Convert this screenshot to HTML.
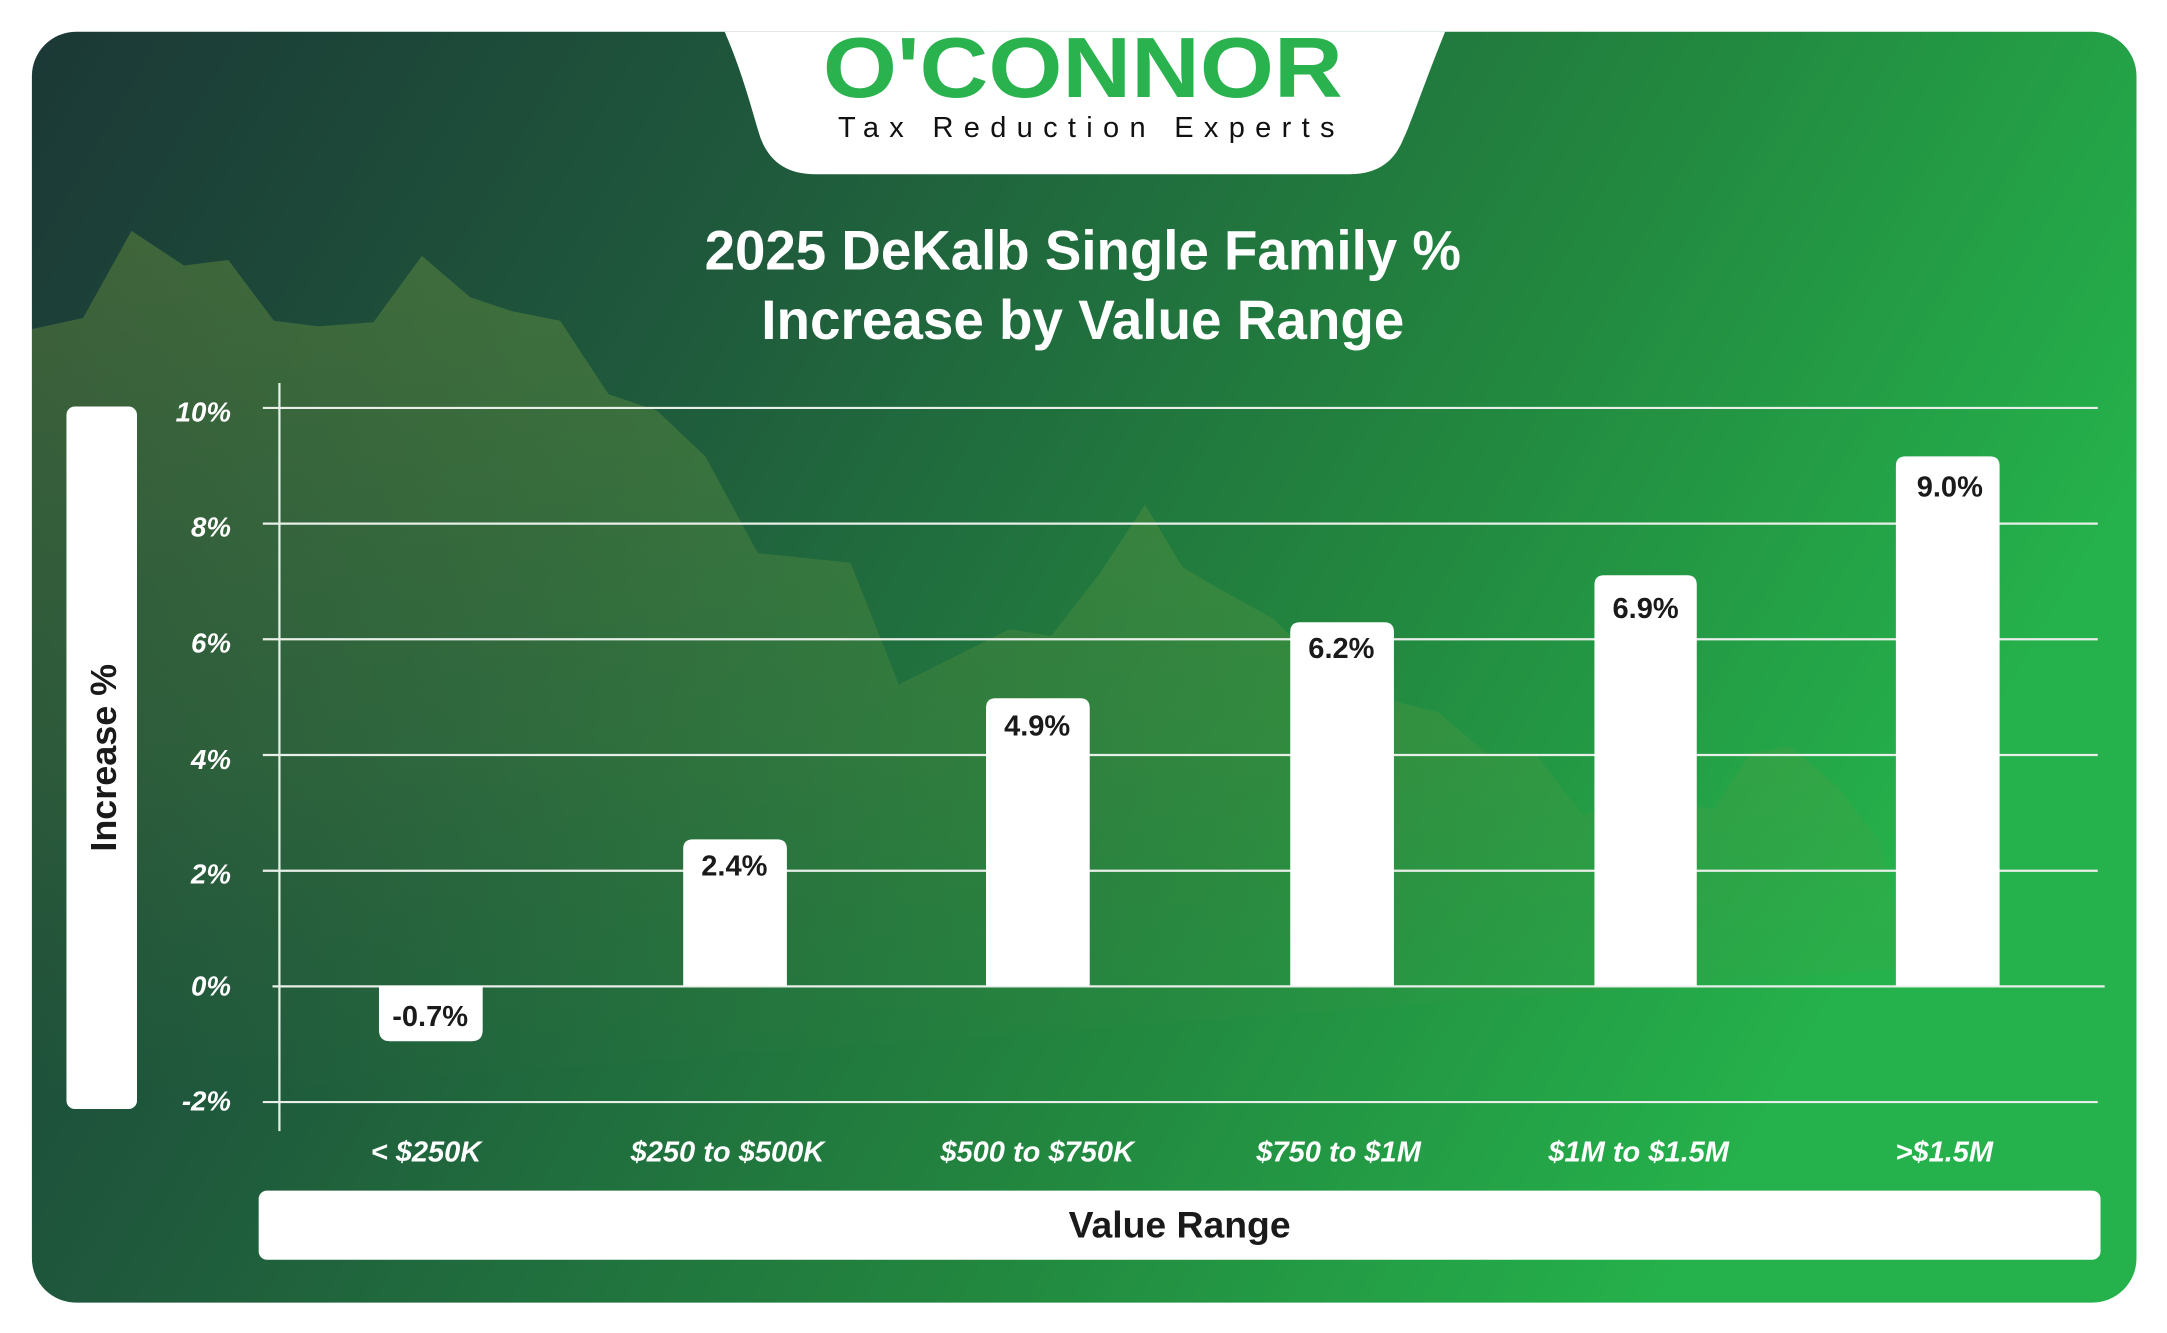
<!DOCTYPE html>
<html><head><meta charset="utf-8"><style>
html,body{margin:0;padding:0;background:#fff;width:2167px;height:1333px;overflow:hidden}
svg{display:block}
text{font-family:"Liberation Sans",sans-serif}
</style></head><body>
<svg width="2167" height="1333" viewBox="0 0 1567 964" xmlns="http://www.w3.org/2000/svg">
<defs>
<linearGradient id="bg" x1="0" y1="0" x2="1" y2="0.35">
<stop offset="0" stop-color="#1b3836"/>
<stop offset="0.35" stop-color="#1f5a3c"/>
<stop offset="0.7" stop-color="#22863f"/>
<stop offset="1" stop-color="#25b14b"/>
</linearGradient>
<linearGradient id="mt" x1="0" y1="0" x2="0" y2="1">
<stop offset="0" stop-color="#7aa040" stop-opacity="0.38"/>
<stop offset="0.6" stop-color="#6a9a40" stop-opacity="0.2"/>
<stop offset="1" stop-color="#5a9040" stop-opacity="0"/>
</linearGradient>
<clipPath id="card"><rect x="23" y="23" width="1522" height="919" rx="32"/></clipPath>
</defs>
<rect x="23" y="23" width="1522" height="919" rx="32" fill="url(#bg)"/>
<g clip-path="url(#card)">
<polygon fill="url(#mt)" points="23,238 60,230 95,167 133,192 165,188 198,232 230,236 270,233 305,185 340,215 370,225 405,232 440,285 475,297 510,330 548,400 615,407 650,495 690,475 730,455 760,460 795,415 828,365 855,410 880,425 920,447 960,485 1000,505 1040,515 1075,545 1110,545 1145,590 1175,575 1240,585 1265,545 1295,540 1330,570 1360,610 1380,700 23,800"/>
</g>
<path d="M524,23 L1045,23 C1030,60 1020,90 1015,100 C1008,118 995,126 975,126 L590,126 C570,126 557,118 550,100 C545,85 538,55 524,23 Z" fill="#fff"/>
<text x="783" y="70" text-anchor="middle" font-size="62" font-weight="bold" fill="#2ab24f" textLength="376" lengthAdjust="spacingAndGlyphs">O'CONNOR</text>
<text x="606" y="99" font-size="21" fill="#111" textLength="359" lengthAdjust="spacing">Tax Reduction Experts</text>
<text x="783" y="195" text-anchor="middle" font-size="40" font-weight="bold" fill="#fff" textLength="547" lengthAdjust="spacingAndGlyphs">2025 DeKalb Single Family %</text>
<text x="783" y="245" text-anchor="middle" font-size="40" font-weight="bold" fill="#fff" textLength="465" lengthAdjust="spacingAndGlyphs">Increase by Value Range</text>
<g stroke="#e8eee8" stroke-width="1.6">
<line x1="202" y1="277" x2="202" y2="818"/>
<line x1="190" y1="295" x2="1517" y2="295"/>
<line x1="190" y1="378.7" x2="1517" y2="378.7"/>
<line x1="190" y1="462.3" x2="1517" y2="462.3"/>
<line x1="190" y1="546" x2="1517" y2="546"/>
<line x1="190" y1="629.7" x2="1517" y2="629.7"/>
<line x1="197" y1="713.3" x2="1522" y2="713.3"/>
<line x1="190" y1="797" x2="1517" y2="797"/>
</g>
<g font-size="20" font-weight="bold" font-style="italic" fill="#fff" text-anchor="end">
<text x="167" y="305">10%</text><text x="167" y="388">8%</text><text x="167" y="472">6%</text>
<text x="167" y="556">4%</text><text x="167" y="639">2%</text><text x="167" y="720">0%</text><text x="167" y="803">-2%</text>
</g>
<g fill="#fff">
<path d="M274,713 L349,713 L349,745 Q349,753 341,753 L282,753 Q274,753 274,745 Z"/>
<path d="M494,713 L494,614 Q494,607 501,607 L562,607 Q569,607 569,614 L569,713 Z"/>
<path d="M713,713 L713,512 Q713,505 720,505 L781,505 Q788,505 788,512 L788,713 Z"/>
<path d="M933,713 L933,457 Q933,450 940,450 L1001,450 Q1008,450 1008,457 L1008,713 Z"/>
<path d="M1153,713 L1153,423 Q1153,416 1160,416 L1220,416 Q1227,416 1227,423 L1227,713 Z"/>
<path d="M1371,713 L1371,337 Q1371,330 1378,330 L1439,330 Q1446,330 1446,337 L1446,713 Z"/>
</g>
<g font-size="21" font-weight="bold" fill="#1a1a1a" text-anchor="middle">
<text x="311" y="742">-0.7%</text><text x="531" y="633">2.4%</text><text x="750" y="532">4.9%</text>
<text x="970" y="476">6.2%</text><text x="1190" y="447">6.9%</text><text x="1410" y="359">9.0%</text>
</g>
<g font-size="21" font-weight="bold" font-style="italic" fill="#fff" text-anchor="middle">
<text x="308" y="840">&lt; $250K</text><text x="526" y="840">$250 to $500K</text><text x="750" y="840">$500 to $750K</text>
<text x="968" y="840">$750 to $1M</text><text x="1185" y="840">$1M to $1.5M</text><text x="1406" y="840">&gt;$1.5M</text>
</g>
<rect x="187" y="861" width="1332" height="50" rx="6" fill="#fff"/>
<text x="853" y="895" text-anchor="middle" font-size="27" font-weight="bold" fill="#1a1a1a">Value Range</text>
<rect x="48" y="294" width="51" height="508" rx="6" fill="#fff"/>
<text transform="translate(84,548) rotate(-90)" text-anchor="middle" font-size="26" font-weight="bold" fill="#1a1a1a">Increase %</text>
</svg>
</body></html>
